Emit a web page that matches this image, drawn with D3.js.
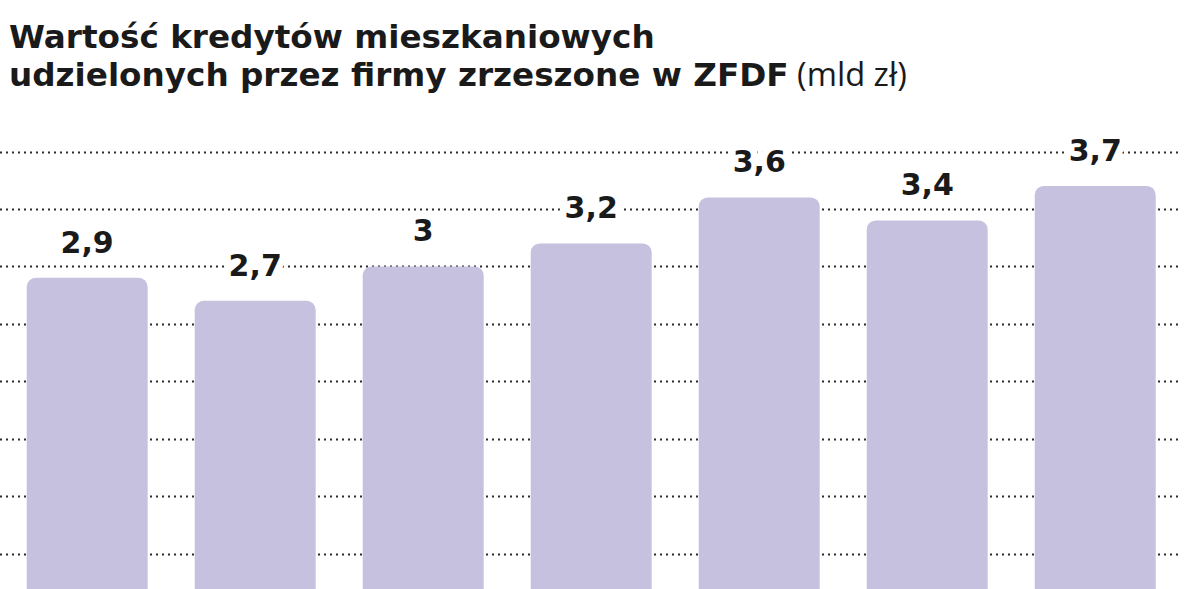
<!DOCTYPE html>
<html>
<head>
<meta charset="utf-8">
<script src="https://d3js.org/d3.v7.min.js"></script>
<style>
  html, body { margin: 0; padding: 0; background: #fff; }
  svg { display: block; }
</style>
</head>
<body>
<div id="chart"></div>
<script>
// chart data
var categories = ["1", "2", "3", "4", "5", "6", "7"];
var values = [2.9, 2.7, 3.0, 3.2, 3.6, 3.4, 3.7];
var gridTicks = [0.5, 1, 1.5, 2, 2.5, 3, 3.5, 4];
var titleLines = ["Wartość kredytów mieszkaniowych", "udzielonych przez firmy zrzeszone w ZFDF"];
var titleUnit = " (mld zł)";

var W = 1200, H = 589;
var boldFont = "'DejaVu Sans', sans-serif";

var svg = d3.select("#chart")
    .append("svg")
    .attr("width", W)
    .attr("height", H);

// y: zero sits below the visible area, the picture is cropped
var y = d3.scaleLinear().domain([0, 4]).range([611, 151.5]);

var x = d3.scaleBand()
    .domain(categories)
    .range([26.7, 1155.7])
    .paddingInner(0.28)
    .paddingOuter(0);

// dotted gridlines
svg.append("g")
    .attr("class", "grid")
    .selectAll("line")
    .data(gridTicks)
    .enter()
    .append("line")
    .attr("x1", 0)
    .attr("x2", 1181)
    .attr("y1", function (d) { return Math.round(y(d)) + 0.5; })
    .attr("y2", function (d) { return Math.round(y(d)) + 0.5; })
    .attr("stroke", "#2b2b2b")
    .attr("stroke-width", 2)
    .attr("stroke-dasharray", "2,4");

// bars, rounded on top only (bottom runs off the page)
svg.append("g")
    .attr("class", "bars")
    .selectAll("rect")
    .data(values)
    .enter()
    .append("rect")
    .attr("x", function (d, i) { return x(categories[i]); })
    .attr("y", function (d) { return y(d); })
    .attr("width", x.bandwidth())
    .attr("height", function (d) { return y(0) - y(d) + 20; })
    .attr("rx", 9)
    .attr("fill", "#c5c1df");

// value labels with white knockout so the dots break around them
svg.append("g")
    .attr("class", "labels")
    .selectAll("text")
    .data(values)
    .enter()
    .append("text")
    .attr("x", function (d, i) { return x(categories[i]) + x.bandwidth() / 2; })
    .attr("y", function (d) { return y(d) - 25; })
    .attr("text-anchor", "middle")
    .style("font-family", boldFont)
    .style("font-weight", "700")
    .style("font-size", "30px")
    .style("fill", "#1a1a1a")
    .style("stroke", "#fff")
    .style("stroke-width", 14)
    .style("stroke-linejoin", "round")
    .style("paint-order", "stroke")
    .text(function (d) { return String(d).replace(".", ","); });

// title
var title = svg.append("g").attr("class", "title");

var t1 = title.append("text")
    .attr("x", 9)
    .attr("y", 48)
    .style("font-family", boldFont)
    .style("font-weight", "700")
    .style("font-size", "30px")
    .style("fill", "#1a1a1a")
    .text(titleLines[0]);

// size the title so the first line spans the same width as in the print
var fs = 30 * 646 / t1.node().getComputedTextLength();
t1.style("font-size", fs + "px");

var t2 = title.append("text")
    .attr("x", 9)
    .attr("y", 86)
    .style("font-family", boldFont)
    .style("font-size", fs + "px")
    .style("fill", "#1a1a1a");

t2.append("tspan")
    .style("font-weight", "700")
    .text(titleLines[1]);

t2.append("tspan")
    .style("font-weight", "400")
    .style("font-family", "'Open Sans', sans-serif")
    .text(titleUnit);
</script>
</body>
</html>
